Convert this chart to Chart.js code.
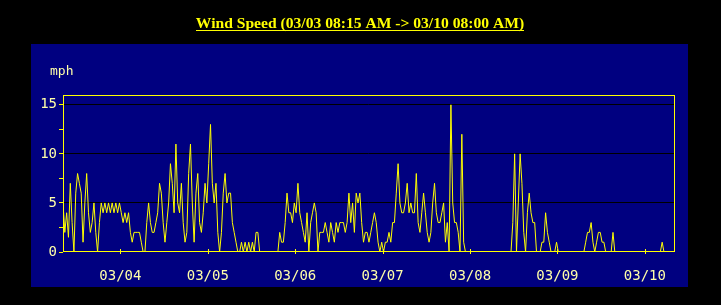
<!DOCTYPE html>
<html>
<head>
<meta charset="utf-8">
<script src="https://cdn.jsdelivr.net/npm/chart.js@4.4.1/dist/chart.umd.min.js"></script>
<style>
  html, body { margin: 0; padding: 0; background: #000; }
  #wrap { width: 721px; height: 305px; }
</style>
</head>
<body>
<div id="wrap"><canvas id="myChart" width="721" height="305"></canvas></div>
<script>
var chartTitle = 'Wind Speed (03/03 08:15 AM -> 03/10 08:00 AM)';
var unitLabel = 'mph';

// one reading every 30 minutes, starting 03/03 08:15 AM
var windMph = [
  5, 2, 4, 1.5, 7, 3, 0, 6, 8, 7,
  6, 1, 5, 8, 4, 2, 3, 5, 2, 0,
  3, 5, 4, 5, 4, 5, 4, 5, 4, 5,
  4, 5, 4, 3, 4, 3, 4, 2, 1, 2,
  2, 2, 2, 1, 0, 0, 3, 5, 3, 2,
  2, 3, 4, 7, 6, 3, 1, 3, 5, 9,
  7, 4, 11, 5, 4, 7, 3, 1, 2, 8,
  11, 5, 1, 6, 8, 3, 2, 4, 7, 5,
  9, 13, 7, 5, 7, 2, 0, 2, 6, 8,
  5, 6, 6, 3, 2, 1, 0, 0, 1, 0,
  1, 0, 1, 0, 1, 0, 2, 2, 0, 0,
  0, 0, 0, 0, 0, 0, 0, 0, 0, 2,
  1, 1, 3, 6, 4, 4, 3, 5, 4, 7,
  4, 3, 2, 1, 4, 0, 3, 4, 5, 4,
  0, 2, 2, 2, 3, 2, 1, 3, 2, 1,
  3, 2, 3, 3, 3, 2, 3, 6, 3, 5,
  2, 6, 5, 6, 3, 1, 2, 2, 1, 2,
  3, 4, 3, 1, 0, 1, 0, 1, 1, 2,
  1, 3, 3, 6, 9, 5, 4, 4, 5, 7,
  4, 5, 4, 4, 8, 3, 2, 4, 6, 4,
  2, 1, 2, 5, 7, 4, 3, 3, 4, 5,
  1, 3, 0, 15, 5, 3, 3, 2, 0, 12,
  1, 0, 0, 0, 0, 0, 0, 0, 0, 0,
  0, 0, 0, 0, 0, 0, 0, 0, 0, 0,
  0, 0, 0, 0, 0, 0, 0, 3, 10, 0,
  5, 10, 7, 2, 0, 4, 6, 4, 3, 3,
  0, 0, 0, 1, 1, 4, 2, 1, 0, 0,
  0, 1, 0, 0, 0, 0, 0, 0, 0, 0,
  0, 0, 0, 0, 0, 0, 0, 1, 2, 2,
  3, 1, 0, 1, 2, 2, 1, 1, 0, 0,
  0, 0, 2, 0, 0, 0, 0, 0, 0, 0,
  0, 0, 0, 0, 0, 0, 0, 0, 0, 0,
  0, 0, 0, 0, 0, 0, 0, 0, 0, 1,
  0, 0, 0, 0, 0, 0
];

var dayLabels = ['03/04', '03/05', '03/06', '03/07', '03/08', '03/09', '03/10'];
// midnight of each day, in hours after 03/03 08:15
var dayHours = [15.75, 39.75, 63.75, 87.75, 111.75, 135.75, 159.75];
var yTicks = [0, 2.5, 5, 7.5, 10, 12.5, 15];

var points = windMph.map(function (v, i) { return { x: i * 0.5, y: v }; });

var labelColor = '#ffffa8';

const framePlugin = {
  id: 'frame',
  beforeDraw(chart) {
    const c = chart.ctx;
    c.save();
    c.fillStyle = '#000';
    c.fillRect(0, 0, chart.width, chart.height);
    c.fillStyle = '#000080';
    c.fillRect(31, 44, 657, 243);

    // title, underlined
    c.font = 'bold 15.6px "Liberation Serif"';
    c.fillStyle = '#ffff00';
    c.textAlign = 'center';
    c.textBaseline = 'alphabetic';
    c.fillText(chartTitle, 360, 28);
    const w = c.measureText(chartTitle).width;
    c.fillRect(Math.round(360 - w / 2), 30, Math.round(w), 1);

    c.font = '13px "DejaVu Sans Mono"';
    c.fillStyle = labelColor;
    c.textAlign = 'left';
    c.textBaseline = 'middle';
    c.fillText(unitLabel, 50, 72);
    c.restore();
  },
  afterDatasetsDraw(chart) {
    const c = chart.ctx;
    const a = chart.chartArea;
    const x = chart.scales.x;
    c.save();
    c.strokeStyle = '#ffff00';
    c.lineWidth = 1;
    c.strokeRect(Math.floor(a.left) + 0.5, Math.floor(a.top) + 0.5,
      Math.round(a.right - a.left), Math.round(a.bottom - a.top) - 1);
    c.beginPath();
    dayHours.forEach(function (h) {
      const px = Math.round(x.getPixelForValue(h)) + 0.5;
      c.moveTo(px, a.bottom - 3);
      c.lineTo(px, a.bottom + 2);
    });
    c.stroke();
    c.restore();
  }
};

const config = {
  type: 'line',
  data: {
    datasets: [{
      label: 'Wind Speed',
      data: points,
      borderColor: '#ffff00',
      borderWidth: 1,
      pointRadius: 0,
      fill: false,
      tension: 0
    }]
  },
  options: {
    responsive: false,
    animation: false,
    events: [],
    layout: { padding: { left: 23, top: 95, right: 47, bottom: 0 } },
    plugins: {
      legend: { display: false },
      title: { display: false },
      tooltip: { enabled: false }
    },
    scales: {
      x: {
        type: 'linear',
        min: 0,
        max: 167.75,
        afterFit: function (s) { s.height = 53; },
        afterBuildTicks: function (s) {
          s.ticks = dayHours.map(function (h) { return { value: h }; });
        },
        border: { display: false },
        grid: { display: false },
        ticks: {
          color: labelColor,
          font: { family: 'DejaVu Sans Mono', size: 14 },
          padding: 8,
          maxRotation: 0,
          autoSkip: false,
          callback: function (v, i) { return dayLabels[i]; }
        }
      },
      y: {
        min: 0,
        max: 16,
        afterFit: function (s) { s.width = 40; },
        afterBuildTicks: function (s) {
          s.ticks = yTicks.map(function (v) { return { value: v }; });
        },
        border: { display: false },
        grid: {
          color: function (ctx) {
            var v = ctx.tick && ctx.tick.value;
            return (v > 0 && v % 5 === 0) ? '#000000' : 'rgba(0,0,0,0)';
          },
          tickColor: '#ffff00',
          tickLength: 4,
          lineWidth: 1
        },
        ticks: {
          color: labelColor,
          font: { family: 'DejaVu Sans Mono', size: 14 },
          padding: 2,
          autoSkip: false,
          callback: function (v) { return v % 5 === 0 ? String(v) : ''; }
        }
      }
    }
  },
  plugins: [framePlugin]
};

var ctx = document.getElementById('myChart');
var myChart = new Chart(ctx, config);
</script>
</body>
</html>
